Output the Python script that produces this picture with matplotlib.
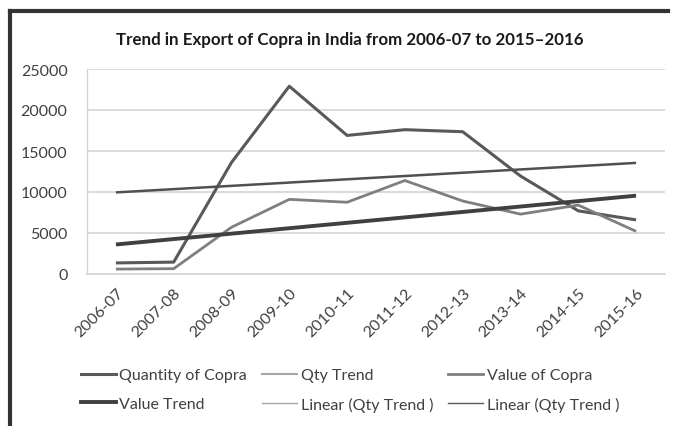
import matplotlib
matplotlib.use("Agg")
import matplotlib.pyplot as plt
from matplotlib.lines import Line2D

plt.rcParams['font.family'] = ['Lato', 'DejaVu Sans']

years = ["2006-07", "2007-08", "2008-09", "2009-10", "2010-11",
         "2011-12", "2012-13", "2013-14", "2014-15", "2015-16"]
quantity_of_copra = [1350, 1450, 13600, 22900, 16900, 17600, 17350, 11950, 7700, 6600]
value_of_copra = [600, 650, 5700, 9100, 8750, 11400, 8900, 7300, 8400, 5200]
# straight trend lines: values read at first and last year
trend_years = ["2006-07", "2015-16"]
value_trend = [3600, 9550]
qty_linear_trend = [9950, 13550]

yticks = [0, 5000, 10000, 15000, 20000, 25000]
title = "Trend in Export of Copra in India from 2006-07 to 2015\u20132016"

W, H = 675, 427
fig = plt.figure(figsize=(W / 100, H / 100), dpi=100)
ax = fig.add_axes([87 / W, 1 - 275 / H, (665 - 87) / W, (275 - 70) / H])

ax.plot(years, quantity_of_copra, color="#595959", lw=2.2, solid_capstyle="butt", zorder=3)
ax.plot(years, value_of_copra, color="#7f7f7f", lw=2.0, solid_capstyle="butt", zorder=3)
ax.plot(trend_years, value_trend, color="#404040", lw=2.8, solid_capstyle="butt", zorder=4)
ax.plot(trend_years, qty_linear_trend, color="#505050", lw=1.8, solid_capstyle="butt", zorder=4)

ax.set_xlim(-0.5, len(years) - 0.5)
ax.set_ylim(0, 25000)
ax.set_yticks(yticks)
ax.set_yticklabels([str(v) for v in yticks])
ax.grid(axis="y", color="#d4d4d4", lw=1.2)
ax.set_axisbelow(True)
for s in ["top", "right"]:
    ax.spines[s].set_visible(False)
ax.spines["left"].set_color("#d4d4d4")
ax.spines["bottom"].set_color("#d4d4d4")
ax.spines["left"].set_linewidth(1.0)
ax.spines["bottom"].set_linewidth(1.2)
ax.tick_params(axis="both", length=0, labelsize=11.5, colors="#404040")
ax.tick_params(axis="y", pad=14)
plt.setp(ax.get_xticklabels(), rotation=45, ha="right", va="top", rotation_mode="anchor")
ax.tick_params(axis="x", pad=8)

fig.text(350 / W, 1 - 40 / H, title, ha="center", va="center",
         fontsize=12.2, fontweight="bold", color="#1a1a1a")

h_q = Line2D([], [], color="#595959", lw=2.2)
h_qt = Line2D([], [], color="#a6a6a6", lw=1.5)
h_v = Line2D([], [], color="#7f7f7f", lw=2.0)
h_vt = Line2D([], [], color="#404040", lw=2.8)
h_l1 = Line2D([], [], color="#a6a6a6", lw=1.0)
h_l2 = Line2D([], [], color="#595959", lw=1.0)
# column-major ordering so rows read: Q, QtyT, VoC / VT, Lin, Lin
handles = [h_q, h_vt, h_qt, h_l1, h_v, h_l2]
labels = ["Quantity of Copra", "Value Trend", "Qty Trend",
          "Linear (Qty Trend )", "Value of Copra", "Linear (Qty Trend )"]
leg = fig.legend(handles, labels, ncol=3, loc="center", bbox_to_anchor=(350 / W, 1 - 391 / H),
                 frameon=False, fontsize=11.5, handlelength=2.2, handletextpad=0.2,
                 columnspacing=0.95, labelspacing=0.9)
for t in leg.get_texts():
    t.set_color("#404040")

# outer chart border (top and left visible)
fig.add_artist(Line2D([10 / W, 668 / W], [1 - 12 / H, 1 - 12 / H], color="#333333", lw=3))
fig.add_artist(Line2D([10 / W, 10 / W], [1 - 12 / H, 0], color="#333333", lw=3))

fig.savefig("out.png", dpi=100, facecolor="white")
